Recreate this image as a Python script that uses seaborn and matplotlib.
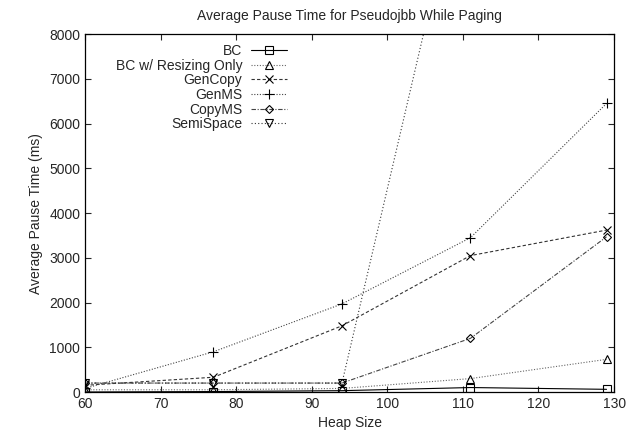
import matplotlib
matplotlib.use('Agg')
from matplotlib import pyplot as plt
import seaborn as sns
import pandas as pd

heap = [60, 77, 94, 111, 129]
bc = [0, 10, 30, 100, 60]
bc_resize = [50, 50, 80, 300, 730]
gencopy = [150, 330, 1480, 3050, 3620]
genms = [80, 900, 1970, 3450, 6450]
copyms = [200, 200, 200, 1200, 3470]
semispace = [200, 200, 200, 12500, 20000]

series = ['BC', 'BC w/ Resizing Only', 'GenCopy', 'GenMS', 'CopyMS', 'SemiSpace']
values = [bc, bc_resize, gencopy, genms, copyms, semispace]
markers = ['s', '^', 'x', '+', 'D', 'v']
msizes = [6, 5.5, 6, 7, 4.5, 5.5]
dashes = ['-', (0, (1, 1.5)), (0, (3, 2)), (0, (1, 1.5)), (0, (4, 1.5, 1, 1.5)), (0, (1, 2))]
colors = ['black', '#666666', '#333333', '#444444', '#444444', '#333333']

sns.set_style('ticks')
plt.rcParams['font.family'] = ['Liberation Sans', 'DejaVu Sans']

fig = plt.figure(figsize=(6.39, 4.38), dpi=100)
ax = fig.add_axes([0.133, 0.105, 0.828, 0.817])

for name, vals, m, ms, ls, c in zip(series, values, markers, msizes, dashes, colors):
    df = pd.DataFrame({'heap': heap, 'pause': vals})
    sns.lineplot(data=df, x='heap', y='pause', ax=ax, label=name, color=c,
                 linestyle=ls, linewidth=0.8, marker=m, markersize=ms,
                 markerfacecolor='none', markeredgecolor='black', markeredgewidth=0.8)

ax.set_xlim(60, 130)
ax.set_ylim(0, 8000)
ax.set_xticks(range(60, 131, 10))
ax.set_yticks(range(0, 8001, 1000))
ax.tick_params(direction='in', top=True, right=True, length=4, labelsize=10, width=0.8)
for s in ax.spines.values():
    s.set_visible(True)
    s.set_linewidth(0.9)
    s.set_color('black')

ax.set_xlabel('Heap Size', fontsize=10)
ax.set_ylabel('Average Pause Time (ms)', fontsize=10)
ax.set_title('Average Pause Time for Pseudojbb While Paging', fontsize=10, pad=10)

lg = ax.legend(loc='upper right', bbox_to_anchor=(0.40, 1.0), frameon=False,
               markerfirst=False, fontsize=10, handlelength=2.6, labelspacing=0.05,
               handletextpad=0.6, borderaxespad=0.3)

fig.savefig('out.png', dpi=100)
